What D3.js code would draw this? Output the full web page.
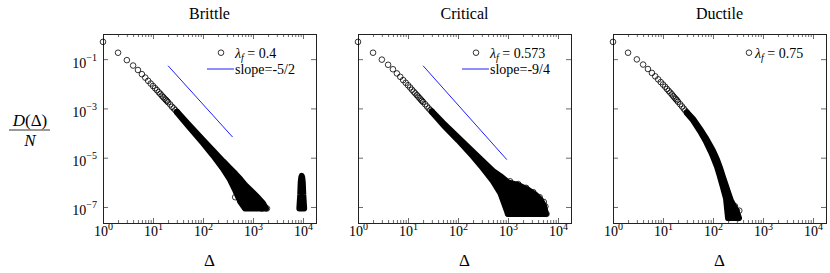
<!DOCTYPE html>
<html>
<head>
<meta charset="utf-8">
<script src="https://cdn.jsdelivr.net/npm/d3@7"></script>
<style>
    body { margin: 0; background: #fff; }
    text { font-family: "Liberation Serif", "Times New Roman", serif; fill: #000; }
</style>
</head>
<body>
<svg id="chart" width="830" height="273"></svg>
<script>
// --- data ---------------------------------------------------------------
const panelTitles = ['Brittle', 'Critical', 'Ductile'];
const lambdaF = ['0.4', '0.573', '0.75'];
const slopeLabels = ['-5/2', '-9/4', null];

// the first, well separated avalanche sizes
const sparseDelta = [1, 2, 3, 4, 5, 6, 7, 8, 9, 10, 11, 12, 13, 14, 15, 16, 17, 18, 19, 20, 22, 24, 26, 28, 30];
const brittleSparse = [0.501, 0.182, 0.0912, 0.0550, 0.0363, 0.0245, 0.0178, 0.0132, 0.0102, 0.00813,
    0.00661, 0.00550, 0.00457, 0.00389, 0.00331, 0.00288, 0.00251, 0.00224, 0.00200, 0.00178,
    0.00145, 0.00117, 0.00100, 0.000851, 0.000724];
const criticalSparse = [0.501, 0.182, 0.0955, 0.0589, 0.0389, 0.0263, 0.0191, 0.0141, 0.0110, 0.00871,
    0.00708, 0.00575, 0.00479, 0.00407, 0.00347, 0.00302, 0.00263, 0.00229, 0.00204, 0.00182,
    0.00148, 0.00120, 0.00100, 0.000851, 0.000741];
const ductileSparse = [0.501, 0.182, 0.0977, 0.0603, 0.0398, 0.0275, 0.0200, 0.0151, 0.0117, 0.00933,
    0.00759, 0.00617, 0.00513, 0.00437, 0.00372, 0.00316, 0.00275, 0.00240, 0.00214, 0.00186,
    0.00148, 0.00120, 0.000977, 0.000813, 0.000676];

// dense part: [delta, upper, lower] of the point cloud
const brittleBand = [
    [30, 7.4e-4, 7.0e-4], [50, 2.4e-4, 2.0e-4], [100, 5.2e-5, 3.9e-5], [158, 1.95e-5, 1.25e-5],
    [251, 7.2e-6, 3.6e-6], [347, 3.70e-6, 1.29e-6], [447, 2.19e-6, 4.47e-7], [562, 1.32e-6, 1.58e-7],
    [692, 7.94e-7, 8.7e-8], [1000, 3.80e-7, 8.7e-8], [1259, 2.40e-7, 8.7e-8], [1585, 1.41e-7, 8.7e-8],
    [1820, 8.7e-8, 8.7e-8]
];
const criticalBand = [
    [30, 7.6e-4, 7.1e-4], [50, 2.6e-4, 2.2e-4], [100, 6.6e-5, 5.2e-5], [200, 1.70e-5, 1.12e-5],
    [316, 7.0e-6, 3.7e-6], [500, 2.9e-6, 1.12e-6], [708, 1.78e-6, 3.55e-7], [1000, 1.0e-6, 5.25e-8],
    [1585, 7.9e-7, 5.25e-8], [2512, 5.0e-7, 5.25e-8], [3548, 3.16e-7, 5.25e-8], [4467, 2.0e-7, 5.25e-8],
    [5248, 1.12e-7, 5.25e-8], [5754, 5.25e-8, 5.25e-8]
];
const ductileBand = [
    [30, 7.0e-4, 6.5e-4], [40, 3.70e-4, 3.3e-4], [55, 1.48e-4, 1.2e-4], [71, 6.6e-5, 4.9e-5],
    [89, 2.9e-5, 1.9e-5], [100, 1.9e-5, 1.1e-5], [120, 8.5e-6, 4.3e-6], [138, 3.9e-6, 1.7e-6],
    [158, 1.66e-6, 6.31e-7], [182, 7.08e-7, 2.24e-7], [200, 3.98e-7, 3.55e-8], [229, 1.78e-7, 3.55e-8],
    [263, 1.07e-7, 3.55e-8], [295, 7.08e-8, 3.55e-8], [331, 3.55e-8, 3.55e-8]
];

// system spanning events of the brittle sample: [delta, upper, lower]
const brittleSpike = [
    [8450, 8.7e-8, 8.7e-8], [8800, 3.16e-7, 8.7e-8], [9000, 1.0e-6, 8.7e-8], [9240, 1.58e-6, 8.7e-8],
    [9441, 1.82e-6, 8.7e-8], [9650, 1.58e-6, 8.7e-8], [9900, 1.0e-6, 8.7e-8], [10130, 3.16e-7, 8.7e-8],
    [10550, 8.7e-8, 8.7e-8]
];

const brittleOutliers = [[440, 2.5e-7], [560, 1.7e-7], [740, 4.1e-7], [1000, 2.6e-7], [1200, 1.74e-7], [1500, 8.7e-8], [1900, 8.7e-8]];
const criticalOutliers = [[1100, 1.1e-6], [1600, 8.5e-7], [2300, 6.0e-7], [3200, 4.0e-7], [4300, 2.5e-7], [5200, 1.6e-7], [5600, 1.05e-7], [5900, 5.25e-8], [1000, 5.25e-8]];
const ductileOutliers = [[210, 3.55e-8], [245, 1.07e-7], [275, 1.07e-7], [300, 7.1e-8], [320, 3.55e-8], [335, 7.1e-8]];

// guide lines
const brittleSlope = [[20, 0.054], [390, 6.9e-5]];
const criticalSlope = [[20, 0.054], [950, 8.3e-6]];

const xTicks = [1, 10, 100, 1000, 10000];
const xMinor = [2, 3, 4, 5, 6, 7, 8, 9, 20, 30, 40, 50, 60, 70, 80, 90, 200, 300, 400, 500, 600, 700, 800, 900,
    2000, 3000, 4000, 5000, 6000, 7000, 8000, 9000];
const yTicks = [1e-1, 1e-3, 1e-5, 1e-7];
const yTickExp = ['\u22121', '\u22123', '\u22125', '\u22127'];

// --- layout ----------------------------------------------------------------
const panelLeft = [103, 358, 613];
const panelTop = 34, panelW = 213, panelH = 189;
const radius = 2.8;

const svg = d3.select('#chart');

const x = d3.scaleLog().domain([1, Math.pow(10, 4.26)]).range([0, panelW]);
const y = d3.scaleLog().domain([Math.pow(10, -7.65), Math.pow(10, 0.02)]).range([panelH, 0]);

const series = [
    { sparse: brittleSparse, band: brittleBand, spike: brittleSpike, outliers: brittleOutliers, slope: brittleSlope },
    { sparse: criticalSparse, band: criticalBand, spike: null, outliers: criticalOutliers, slope: criticalSlope },
    { sparse: ductileSparse, band: ductileBand, spike: null, outliers: ductileOutliers, slope: null }
];

const area = d3.area()
    .x(d => x(d[0]))
    .y0(d => y(d[2]))
    .y1(d => y(d[1]));

const line = d3.line()
    .x(d => x(d[0]))
    .y(d => y(d[1]));

series.forEach((s, i) => {
    const g = svg.append('g')
        .attr('transform', `translate(${panelLeft[i]}, ${panelTop})`);

    // ticks
    const tickColor = '#444';
    const bottom = g.append('g').attr('transform', `translate(0, ${panelH})`)
        .call(d3.axisBottom(x).tickValues(xTicks).tickSize(-5).tickFormat(() => ''));
    g.append('g').attr('transform', `translate(0, ${panelH})`)
        .call(d3.axisBottom(x).tickValues(xMinor).tickSize(-3).tickFormat(() => ''));
    g.append('g')
        .call(d3.axisTop(x).tickValues(xTicks).tickSize(-5).tickFormat(() => ''));
    g.append('g')
        .call(d3.axisTop(x).tickValues(xMinor).tickSize(-3).tickFormat(() => ''));
    const left = g.append('g')
        .call(d3.axisLeft(y).tickValues(yTicks).tickSize(-5).tickFormat(() => ''));
    g.append('g').attr('transform', `translate(${panelW}, 0)`)
        .call(d3.axisRight(y).tickValues(yTicks).tickSize(-5).tickFormat(() => ''));

    g.selectAll('.domain').remove();
    g.selectAll('.tick line').attr('stroke', tickColor).attr('stroke-width', 0.8);
    g.selectAll('.tick text').remove();

    // x tick labels
    bottom.selectAll('.tick').each(function (d) {
        const t = d3.select(this).append('text')
            .attr('y', 12.5)
            .attr('text-anchor', 'middle')
            .style('font-size', '14px');
        t.append('tspan').text('10');
        t.append('tspan').attr('dy', -6).style('font-size', '10px').text(Math.round(Math.log10(d)));
    });

    if (i === 0) {
        left.selectAll('.tick').each(function (d, k) {
            const t = d3.select(this).append('text')
                .attr('x', -6)
                .attr('y', 8)
                .attr('text-anchor', 'end')
                .style('font-size', '14px');
            t.append('tspan').text('10');
            t.append('tspan').attr('dy', -7).style('font-size', '10px').text(yTickExp[k]);
        });
    }

    // frame
    g.append('rect')
        .attr('x', 0.5).attr('y', 0.5)
        .attr('width', panelW).attr('height', panelH)
        .attr('fill', 'none')
        .attr('stroke', '#222')
        .attr('stroke-width', 1);

    // dense cloud of points
    [s.band, s.spike].filter(Boolean).forEach(b => {
        g.append('path')
            .datum(b)
            .attr('d', area)
            .attr('fill', '#000')
            .attr('stroke', '#000')
            .attr('stroke-width', 2 * radius + 0.4)
            .attr('stroke-linejoin', 'round');
    });

    const points = sparseDelta.map((d, k) => [d, s.sparse[k]]).concat(s.outliers);
    g.append('g')
        .selectAll('circle')
        .data(points)
        .enter()
        .append('circle')
        .attr('cx', d => x(d[0]))
        .attr('cy', d => y(d[1]))
        .attr('r', radius)
        .attr('fill', 'none')
        .attr('stroke', '#000')
        .attr('stroke-width', 0.8);

    if (s.slope) {
        g.append('path')
            .datum(s.slope)
            .attr('d', line)
            .attr('fill', 'none')
            .attr('stroke', '#1f1fff')
            .attr('stroke-width', 1);
    }

    // title and x label
    g.append('text')
        .attr('x', panelW / 2).attr('y', 19 - panelTop)
        .attr('text-anchor', 'middle')
        .style('font-size', '16px')
        .text(panelTitles[i]);

    g.append('text')
        .attr('x', panelW / 2).attr('y', 266 - panelTop)
        .attr('text-anchor', 'middle')
        .style('font-size', '17px')
        .text('\u0394');

    // legend
    const textX = slopeLabels[i] ? panelW - 81 : panelW - 71;
    const markX = slopeLabels[i] ? textX - 14 : textX - 6;
    g.append('circle')
        .attr('cx', markX).attr('cy', 52.7 - panelTop)
        .attr('r', radius)
        .attr('fill', 'none')
        .attr('stroke', '#000')
        .attr('stroke-width', 0.8);
    const lt = g.append('text')
        .attr('x', textX).attr('y', 57.5 - panelTop)
        .style('font-size', '14px');
    lt.append('tspan').style('font-style', 'italic').text('\u03bb');
    lt.append('tspan').attr('dy', 3).style('font-style', 'italic').style('font-size', '10px').text('f');
    lt.append('tspan').attr('dy', -3).text(' = ' + lambdaF[i]);

    if (slopeLabels[i]) {
        g.append('line')
            .attr('x1', textX - 28).attr('x2', textX - 1)
            .attr('y1', 69 - panelTop).attr('y2', 69 - panelTop)
            .attr('stroke', '#1f1fff')
            .attr('stroke-width', 1);
        g.append('text')
            .attr('x', textX).attr('y', 73.5 - panelTop)
            .style('font-size', '14px')
            .text('slope=' + slopeLabels[i]);
    }
});

// y label as a fraction
const yl = svg.append('g').attr('transform', 'translate(30, 0)');
const num = yl.append('text').attr('y', 126).attr('text-anchor', 'middle').style('font-size', '17px');
num.append('tspan').style('font-style', 'italic').text('D');
num.append('tspan').text('(\u0394)');
yl.append('line').attr('x1', -21).attr('x2', 20).attr('y1', 130).attr('y2', 130)
    .attr('stroke', '#000').attr('stroke-width', 0.8);
yl.append('text').attr('y', 146).attr('text-anchor', 'middle').style('font-size', '17px')
    .style('font-style', 'italic').text('N');
</script>
</body>
</html>
